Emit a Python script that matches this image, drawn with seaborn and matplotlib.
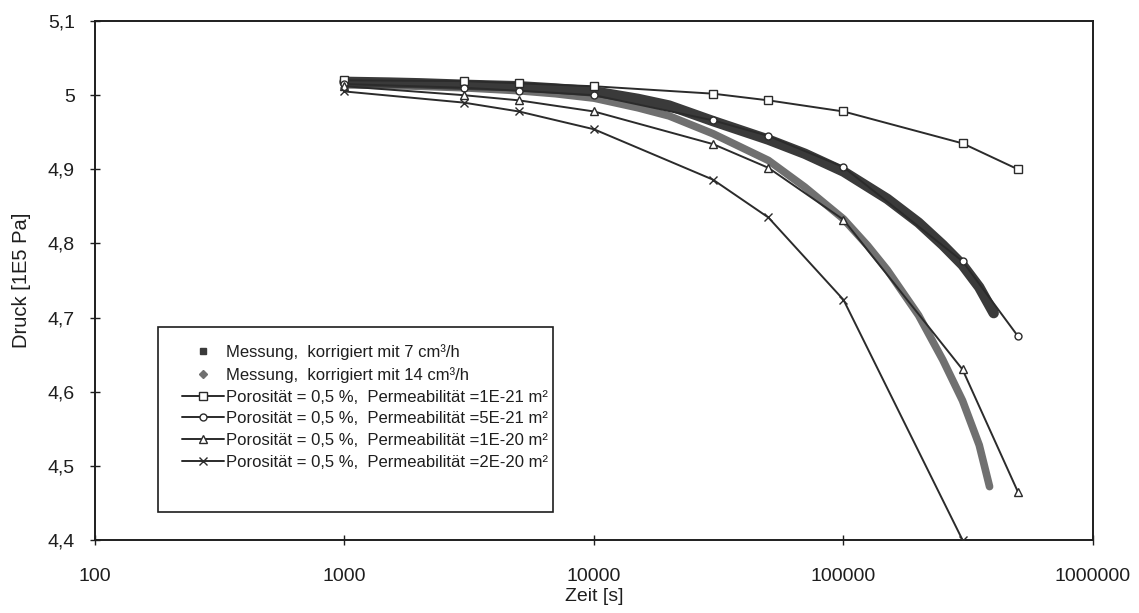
import matplotlib
matplotlib.use("Agg")
import matplotlib.pyplot as plt
import matplotlib.ticker as mticker
from matplotlib.lines import Line2D
from matplotlib.patches import Rectangle
import seaborn as sns

# ---------------- data ----------------
t_model = [1000, 3000, 5000, 10000, 30000, 50000, 100000, 300000, 500000]
p_k1e21 = [5.020, 5.019, 5.016, 5.012, 5.002, 4.993, 4.978, 4.935, 4.900]
p_k5e21 = [5.015, 5.010, 5.006, 5.000, 4.966, 4.945, 4.903, 4.776, 4.675]
p_k1e20 = [5.012, 5.000, 4.993, 4.978, 4.934, 4.902, 4.832, 4.630, 4.465]
t_k2e20 = [1000, 3000, 5000, 10000, 30000, 50000, 100000, 300000]
p_k2e20 = [5.005, 4.990, 4.978, 4.954, 4.886, 4.835, 4.724, 4.400]

t_mess7 = [1000, 1500, 2000, 3000, 5000, 7000, 10000, 15000, 20000, 30000,
           50000, 70000, 100000, 150000, 200000, 250000, 300000, 350000, 400000]
p_mess7 = [5.018, 5.017, 5.016, 5.014, 5.012, 5.009, 5.005, 4.995, 4.986, 4.965,
           4.940, 4.921, 4.897, 4.860, 4.828, 4.798, 4.771, 4.741, 4.706]

t_mess14 = [1000, 1500, 2000, 3000, 5000, 7000, 10000, 15000, 20000, 30000,
            50000, 70000, 100000, 125000, 150000, 200000, 250000, 300000, 350000, 385000]
p_mess14 = [5.014, 5.013, 5.012, 5.010, 5.006, 5.002, 4.996, 4.983, 4.972, 4.948,
            4.912, 4.876, 4.833, 4.797, 4.764, 4.703, 4.643, 4.588, 4.528, 4.472]

labels = [
    "Messung,  korrigiert mit 7 cm³/h",
    "Messung,  korrigiert mit 14 cm³/h",
    "Porosität = 0,5 %,  Permeabilität =1E-21 m²",
    "Porosität = 0,5 %,  Permeabilität =5E-21 m²",
    "Porosität = 0,5 %,  Permeabilität =1E-20 m²",
    "Porosität = 0,5 %,  Permeabilität =2E-20 m²",
]
x_ticks = [100, 1000, 10000, 100000, 1000000]
y_ticks = [4.4, 4.5, 4.6, 4.7, 4.8, 4.9, 5.0, 5.1]

# ---------------- style ----------------
sns.set_theme(style="ticks")
plt.rcParams["font.family"] = ["Liberation Sans", "DejaVu Sans"]

fig = plt.figure(figsize=(11.39, 6.13), dpi=100)
ax = fig.add_axes([0.0834, 0.1191, 0.8762, 0.8466])

c_line = "#2b2b2b"
c_txt = "#1e1e1e"

# measurement bands
sns.lineplot(x=t_mess14, y=p_mess14, ax=ax, color="#707070", lw=5.5,
             solid_capstyle="round", zorder=2, legend=False)
sns.lineplot(x=t_mess7, y=p_mess7, ax=ax, color="#3a3a3a", lw=7.5,
             solid_capstyle="round", zorder=2, legend=False)

# model curves
mk = dict(markerfacecolor="white", markeredgecolor=c_line, markeredgewidth=1.0)
sns.lineplot(x=t_model, y=p_k1e21, ax=ax, color=c_line, lw=1.4, marker="s",
             markersize=6, zorder=4, legend=False, **mk)
sns.lineplot(x=t_model, y=p_k5e21, ax=ax, color=c_line, lw=1.4, marker="o",
             markersize=5, zorder=4, legend=False, **mk)
sns.lineplot(x=t_model, y=p_k1e20, ax=ax, color=c_line, lw=1.4, marker="^",
             markersize=6, zorder=4, legend=False, **mk)
sns.lineplot(x=t_k2e20, y=p_k2e20, ax=ax, color=c_line, lw=1.4, marker="x",
             markersize=6, zorder=4, legend=False, markeredgecolor=c_line,
             markeredgewidth=1.0)

# axes
ax.set_xscale("log")
ax.set_xlim(100, 1000000)
ax.set_ylim(4.4, 5.1)
ax.set_xticks(x_ticks)
ax.xaxis.set_major_formatter(mticker.FuncFormatter(lambda v, p: f"{int(round(v))}"))
ax.xaxis.set_minor_locator(mticker.NullLocator())
ax.set_yticks(y_ticks)


def yfmt(v, p):
    if abs(v - round(v)) < 1e-9:
        return f"{int(round(v))}"
    return f"{v:.1f}".replace(".", ",")


ax.yaxis.set_major_formatter(mticker.FuncFormatter(yfmt))
ax.tick_params(axis="both", direction="inout", length=7, width=1.0,
               labelsize=14, colors=c_txt)
ax.tick_params(axis="x", pad=17)
ax.tick_params(axis="y", pad=11)
for s in ax.spines.values():
    s.set_visible(True)
    s.set_color(c_txt)
    s.set_linewidth(1.4)

ax.set_xlabel("Zeit [s]", fontsize=14, color=c_txt, labelpad=2)
ax.set_ylabel("Druck [1E5 Pa]", fontsize=14.5, color=c_txt, labelpad=12)

# legend
handles = [
    Line2D([], [], linestyle="none", marker="s", markersize=5,
           color="#3a3a3a"),
    Line2D([], [], linestyle="none", marker="D", markersize=4,
           color="#707070"),
    Line2D([], [], color=c_line, lw=1.4, marker="s", markersize=6, **mk),
    Line2D([], [], color=c_line, lw=1.4, marker="o", markersize=5, **mk),
    Line2D([], [], color=c_line, lw=1.4, marker="^", markersize=6, **mk),
    Line2D([], [], color=c_line, lw=1.4, marker="x", markersize=6,
           markeredgecolor=c_line),
]
leg = ax.legend(handles, labels, loc="upper left",
                bbox_to_anchor=(0.0791, 0.393), frameon=False,
                fontsize=12, handlelength=2.5, handletextpad=0.12,
                labelspacing=0.4, borderpad=0.5, borderaxespad=0)
for txt in leg.get_texts():
    txt.set_color(c_txt)
leg.set_zorder(6)
ax.add_patch(Rectangle((0.0631, 0.054), 0.3959, 0.356, transform=ax.transAxes,
                       facecolor="white", edgecolor=c_txt, lw=1.2,
                       zorder=5))

fig.savefig("out.png", dpi=100, facecolor="white")
